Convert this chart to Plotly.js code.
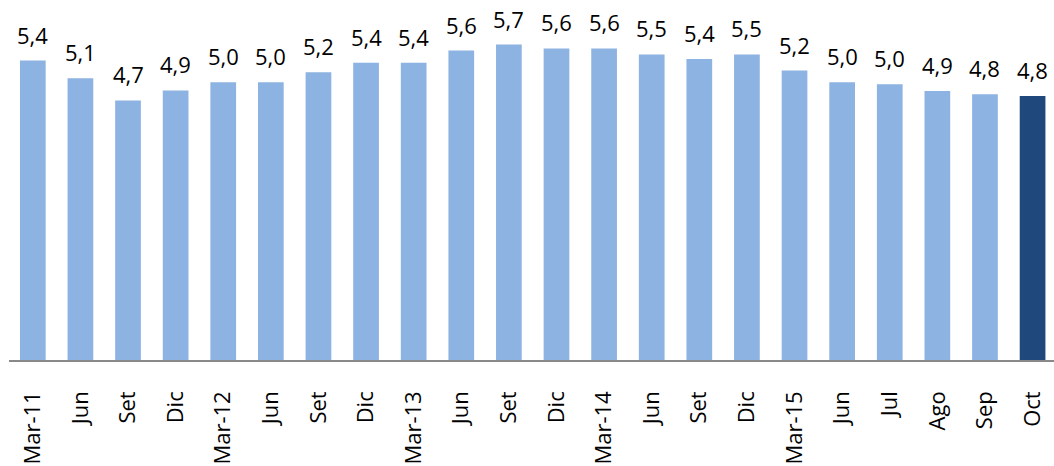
<!DOCTYPE html>
<html>
<head>
<meta charset="utf-8">
<script src="https://cdn.plot.ly/plotly-3.0.1.min.js"></script>
<style>
  html, body { margin: 0; padding: 0; background: #fff; overflow: hidden; }
  #chart { width: 1054px; height: 466px; }
</style>
</head>
<body>
<div id="chart"></div>
<script>
// Data
const tickLabels = ["Mar-11", "Jun", "Set", "Dic", "Mar-12", "Jun", "Set", "Dic", "Mar-13", "Jun", "Set", "Dic", "Mar-14", "Jun", "Set", "Dic", "Mar-15", "Jun", "Jul", "Ago", "Sep", "Oct"];
const values = [5.41, 5.09, 4.69, 4.87, 5.02, 5.02, 5.20, 5.37, 5.37, 5.59, 5.70, 5.63, 5.63, 5.52, 5.44, 5.52, 5.23, 5.02, 4.98, 4.86, 4.80, 4.77];

const positions = tickLabels.map((t, i) => i);

const lightBlue = "#8DB3E2";
const darkBlue = "#1F497D";
const barColors = positions.map(i => i === positions.length - 1 ? darkBlue : lightBlue);

const fmt = v => v.toFixed(1).replace(".", ",");

const fontFamily = "'Open Sans', 'Noto Sans', sans-serif";

const trace = {
  type: "bar",
  x: positions,
  y: values,
  marker: { color: barColors },
  hoverinfo: "skip",
  cliponaxis: false
};

const annotations = positions.map(i => ({
  x: i,
  y: values[i],
  xref: "x",
  yref: "y",
  text: fmt(values[i]),
  showarrow: false,
  yanchor: "bottom",
  yshift: 9,
  font: { family: fontFamily, size: 22, color: "#000" }
}));

const layout = {
  width: 1054,
  height: 466,
  margin: { l: 9, r: 0, t: 0, b: 106, pad: 0 },
  paper_bgcolor: "#ffffff",
  plot_bgcolor: "#ffffff",
  showlegend: false,
  bargap: 0.46,
  xaxis: {
    type: "linear",
    range: [-0.5, 21.45],
    tickmode: "array",
    tickvals: positions,
    ticktext: tickLabels,
    showline: true,
    linecolor: "#898989",
    linewidth: 1.5,
    showgrid: false,
    zeroline: false,
    ticks: "outside",
    ticklen: 21,
    tickcolor: "rgba(0,0,0,0)",
    tickangle: -90,
    tickfont: { family: fontFamily, size: 22, color: "#000" },
    fixedrange: true
  },
  yaxis: {
    range: [0, 6.504],
    showline: false,
    showgrid: false,
    zeroline: false,
    showticklabels: false,
    ticks: "",
    fixedrange: true
  },
  annotations: annotations
};

Plotly.newPlot("chart", [trace], layout, { displayModeBar: false, staticPlot: true });
</script>
</body>
</html>
